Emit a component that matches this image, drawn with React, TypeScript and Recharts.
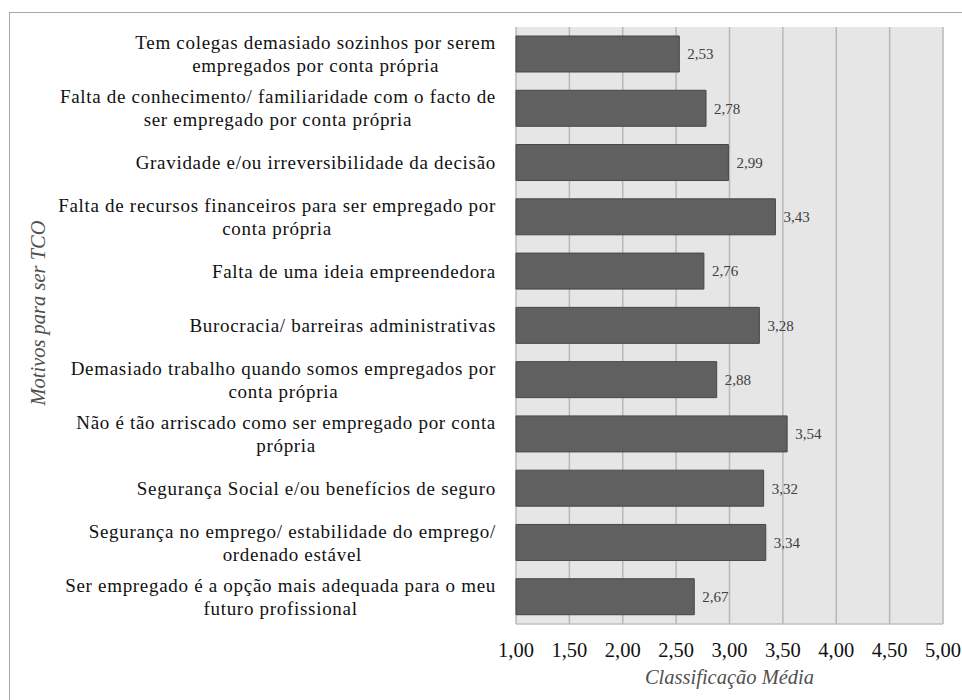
import React from 'react';
import { BarChart, Bar, XAxis, YAxis, CartesianGrid, LabelList, Label } from 'recharts';

document.body.style.margin = '0';

const categories = [
  'Tem colegas demasiado sozinhos por serem\nempregados por conta própria',
  'Falta de conhecimento/ familiaridade com o facto de\nser empregado por conta própria',
  'Gravidade e/ou irreversibilidade da decisão',
  'Falta de recursos financeiros para ser empregado por\nconta própria',
  'Falta de uma ideia empreendedora',
  'Burocracia/ barreiras administrativas',
  'Demasiado trabalho quando somos empregados por\nconta própria',
  'Não é tão arriscado como ser empregado por conta\nprópria',
  'Segurança Social e/ou benefícios de seguro',
  'Segurança no emprego/ estabilidade do emprego/\nordenado estável',
  'Ser empregado é a opção mais adequada para o meu\nfuturo profissional',
];
const values = [2.53, 2.78, 2.99, 3.43, 2.76, 3.28, 2.88, 3.54, 3.32, 3.34, 2.67];
const xTicks = [1, 1.5, 2, 2.5, 3, 3.5, 4, 4.5, 5];

const data = categories.map((name, i) => ({ name, value: values[i] }));

const FONT = "'Liberation Serif', 'Times New Roman', serif";
const CAT_SIZE = 19;
const CAT_SPACING = 0.7;

const fmt = (v: number) => v.toFixed(2).replace('.', ',');

// canvas used only to measure the widest line of a wrapped label
const probe = document.createElement('canvas').getContext('2d');
const measure = (s: string) => {
  if (!probe) return s.length * 8;
  probe.font = `${CAT_SIZE}px ${FONT}`;
  return probe.measureText(s).width + CAT_SPACING * s.length;
};

const CategoryTick = (props: any) => {
  const { x, y, payload } = props;
  const lines: string[] = String(payload.value).split('\n');
  const widest = Math.max(...lines.map(measure));
  const cx = x - widest / 2;
  const lh = 23;
  const top = y - ((lines.length - 1) * lh) / 2;
  return (
    <g>
      {lines.map((ln, i) => (
        <text
          key={i}
          x={cx}
          y={top + i * lh + 6.5}
          textAnchor="middle"
          style={{ fontFamily: FONT, fontSize: CAT_SIZE, letterSpacing: CAT_SPACING }}
          fill="#111"
        >
          {ln}
        </text>
      ))}
    </g>
  );
};

const ValueTick = (props: any) => {
  const { x, y, payload } = props;
  return (
    <text x={x} y={y + 33} textAnchor="middle" style={{ fontFamily: FONT, fontSize: 20.5 }} fill="#111">
      {fmt(payload.value)}
    </text>
  );
};

export default function App() {
  return (
    <div style={{ position: 'relative', width: 962, height: 700, overflow: 'hidden', background: '#fff', fontFamily: FONT }}>
      <div
        style={{
          position: 'absolute',
          left: 9,
          top: 12,
          width: 970,
          height: 700,
          border: '1.5px solid #a8a8a8',
        }}
      />
      <BarChart
        width={962}
        height={700}
        data={data}
        layout="vertical"
        margin={{ top: 27, right: 19, bottom: 0, left: 0 }}
        barSize={36}
        style={{ position: 'absolute', left: 0, top: 0 }}
      >
        <CartesianGrid horizontal={false} fill="#e6e6e6" stroke="#b8b8b8" strokeWidth={1.5} />
        <XAxis
          type="number"
          domain={[1, 5]}
          ticks={xTicks}
          height={76}
          tickSize={0}
          tickMargin={0}
          tickLine={false}
          axisLine={{ stroke: '#c0c0c0', strokeWidth: 1.5 }}
          tick={<ValueTick />}
          interval={0}
        >
          <Label
            content={(p: any) => {
              const vb = p.viewBox || { x: 516, y: 624, width: 427 };
              return (
                <text
                  x={vb.x + vb.width / 2}
                  y={vb.y + 60}
                  textAnchor="middle"
                  style={{ fontFamily: FONT, fontStyle: 'italic', fontSize: 20.5 }}
                  fill="#505050"
                >
                  Classificação Média
                </text>
              );
            }}
          />
        </XAxis>
        <YAxis
          type="category"
          dataKey="name"
          width={516}
          tickSize={0}
          tickMargin={20}
          tickLine={false}
          axisLine={false}
          tick={<CategoryTick />}
          interval={0}
        >
          <Label
            content={() => (
              <text
                x={38}
                y={313}
                transform="rotate(-90 38 313)"
                dy={7}
                textAnchor="middle"
                style={{ fontFamily: FONT, fontStyle: 'italic', fontSize: 20.5 }}
                fill="#505050"
              >
                Motivos para ser TCO
              </text>
            )}
          />
        </YAxis>
        <Bar dataKey="value" fill="#606060" stroke="#474747" strokeWidth={1} isAnimationActive={false}>
          <LabelList
            dataKey="value"
            position="right"
            offset={8}
            formatter={(v: any) => fmt(Number(v))}
            style={{ fontFamily: FONT, fontSize: 15 }}
            fill="#404040"
          />
        </Bar>
      </BarChart>
    </div>
  );
}
